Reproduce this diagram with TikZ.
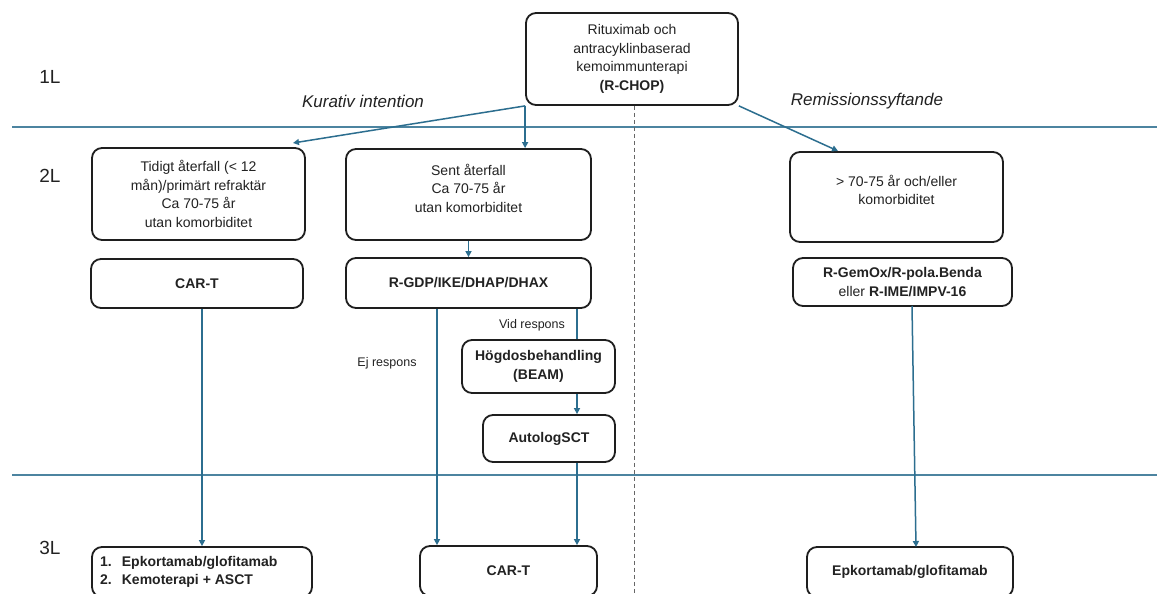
\documentclass[tikz,border=0pt]{standalone}
\usepackage{fontspec}
\setmainfont{Liberation Sans}
\usetikzlibrary{arrows.meta}
\definecolor{lineblue}{HTML}{2C6E8F}
\definecolor{boxline}{HTML}{1E1E1E}
\definecolor{txt}{HTML}{222222}
\begin{document}
\begin{tikzpicture}[x=1pt,y=-1pt,
  every node/.style={text=txt},
  box/.style={draw=boxline, line width=1.8pt, rounded corners=10pt, inner sep=0pt, align=center, font=\fontsize{14}{18.5}\selectfont},
  plain/.style={inner sep=0pt, align=center, font=\fontsize{14}{18.5}\selectfont},
  lvl/.style={inner sep=0pt, font=\fontsize{19}{22}\selectfont},
  intent/.style={inner sep=0pt, font=\fontsize{17}{20}\selectfont\itshape},
  small/.style={inner sep=0pt, font=\fontsize{12.5}{15}\selectfont},
  conn/.style={draw=lineblue, line width=1.5pt},
  arr/.style={conn, -{Triangle[length=6pt,width=6pt]}},
  sep/.style={draw=lineblue!85, line width=1.8pt},
  mid/.style={draw=black!60, line width=1pt, dash pattern=on 4pt off 3pt}
]
\clip (0,0) rectangle (1157,594);
\fill[white] (0,0) rectangle (1157,594);

% separators
\coordinate (s1a) at (12,127); \coordinate (s1b) at (1157,127);
\coordinate (s2a) at (12,475); \coordinate (s2b) at (1157,475);
\draw[sep] (s1a) -- (s1b);
\draw[sep] (s2a) -- (s2b);

% level labels
\node[lvl] (l1) at (50,77) {1L};
\node[lvl] (l2) at (50,176) {2L};
\node[lvl] (l3) at (50,548) {3L};

% intentions
\node[intent] (kur) at (363,101) {Kurativ intention};
\node[intent] (rem) at (867,101) {Remissionssyftande};

% top box
\node[box, minimum width=212pt, minimum height=92pt] (top) at (632,59)
  {Rituximab och\\antracyklinbaserad\\kemoimmunterapi\\\textbf{(R-CHOP)}};

% dashed divider
\coordinate (dbot) at (634,600);
\draw[mid] (top.south -| dbot) -- (dbot);

% 2L boxes
\node[box, minimum width=213pt, minimum height=92pt] (A) at (198.5,194)
  {Tidigt återfall (< 12\\mån)/primärt refraktär\\Ca 70-75 år\\utan komorbiditet};
\node[box, minimum width=245pt, minimum height=91pt] (B) at (468.5,194.5) {};
\node[plain] (Bt) at (468.5,188) {Sent återfall\\Ca 70-75 år\\utan komorbiditet};
\node[box, minimum width=213pt, minimum height=90pt] (C) at (896.5,197) {};
\node[plain] (Ct) at (896.5,190) {> 70-75 år och/eller\\komorbiditet};

\node[box, minimum width=212pt, minimum height=49pt] (cart1) at (197,283.5) {\textbf{CAR-T}};
\node[box, minimum width=245pt, minimum height=50pt] (rgdp) at (468.5,283) {\textbf{R-GDP/IKE/DHAP/DHAX}};
\node[box, minimum width=219pt, minimum height=48pt] (gemox) at (902.5,282)
  {\textbf{R-GemOx/R-pola.Benda}\\eller \textbf{R-IME/IMPV-16}};

\node[box, minimum width=153pt, minimum height=53pt] (hd) at (538.5,366.5)
  {\textbf{Högdosbehandling}\\\textbf{(BEAM)}};
\node[box, minimum width=132pt, minimum height=47pt] (auto) at (549,438.5) {\textbf{AutologSCT}};

% 3L boxes
\node[box, minimum width=220pt, minimum height=50pt] (epk1) at (202,572) {};
\node[plain, anchor=west, align=left] (epk1t) at (100,572)
  {\begin{tabular}{@{}l@{\hspace{10pt}}l@{}}\textbf{1.} & \textbf{Epkortamab/glofitamab}\\[-1pt]\textbf{2.} & \textbf{Kemoterapi + ASCT}\end{tabular}};
\node[box, minimum width=177pt, minimum height=50pt] (cart2) at (508.5,571) {\textbf{CAR-T}};
\node[box, minimum width=206pt, minimum height=50pt] (epk2) at (910,572) {\textbf{Epkortamab/glofitamab}};

% small labels
\node[small] (vid) at (532,325) {Vid respons};
\node[small] (ej) at (387,363) {Ej respons};

% connectors from top
\coordinate (aend) at (293,143);
\draw[arr] (top.south west) -- (aend);
\draw[arr] (top.south west) -- (top.south west |- B.north);
\coordinate (cend) at (838,151);
\draw[arr] (top.south east) -- (cend);

% 2L flows
\draw[arr] (B.south) -- (rgdp.north);
\coordinate (ejx) at (437,0);
\draw[arr] (rgdp.south -| ejx) -- (cart2.north -| ejx);
\coordinate (vx) at (577,0);
\draw[conn] (rgdp.south -| vx) -- (hd.north -| vx);
\draw[arr] (hd.south -| vx) -- (auto.north -| vx);
\draw[arr] (auto.south -| vx) -- (cart2.north -| vx);

\coordinate (lx) at (202,0);
\draw[arr] (cart1.south -| lx) -- (epk1.north -| lx);

\coordinate (g1) at (912,306);
\coordinate (g2) at (916,547);
\draw[arr] (g1) -- (g2);
\end{tikzpicture}
\end{document}
